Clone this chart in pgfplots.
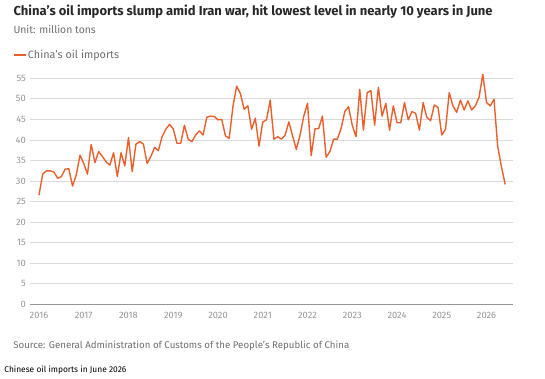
\documentclass[border=0pt]{standalone}
\usepackage{fontspec}
\setmainfont{Fira Sans}
\usepackage{pgfplots}
\pgfplotsset{compat=1.18}
\usepackage{pgfplotstable}

\definecolor{oilline}{RGB}{234,96,44}
\definecolor{gridgray}{RGB}{218,218,218}
\definecolor{zerogray}{RGB}{150,150,150}
\definecolor{ticktext}{RGB}{150,150,150}
\definecolor{titletext}{RGB}{40,40,40}
\definecolor{subtext}{RGB}{110,110,110}

% Monthly crude oil imports, million tons (month 0 = January 2016)
\pgfplotstableread{
m v
0 26.6
1 31.7
2 32.5
3 32.5
4 32.2
5 30.7
6 31.1
7 32.9
8 33.0
9 28.8
10 31.5
11 36.3
12 34.3
13 31.7
14 38.9
15 34.5
16 37.2
17 36.0
18 34.7
19 33.9
20 36.9
21 31.1
22 36.9
23 33.7
24 40.6
25 32.3
26 39.0
27 39.6
28 39.0
29 34.3
30 36.0
31 38.2
32 37.4
33 40.8
34 42.6
35 43.8
36 42.7
37 39.2
38 39.2
39 43.6
40 40.2
41 39.6
42 41.2
43 42.2
44 41.2
45 45.5
46 45.8
47 45.7
48 44.9
49 45.0
50 41.0
51 40.4
52 48.1
53 53.1
54 51.3
55 47.5
56 48.3
57 42.6
58 45.3
59 38.5
60 44.4
61 44.9
62 49.7
63 40.2
64 40.8
65 40.2
66 41.2
67 44.4
68 41.0
69 37.7
70 41.2
71 45.8
72 48.9
73 36.2
74 42.7
75 42.8
76 45.8
77 35.8
78 37.2
79 40.2
80 40.2
81 42.8
82 46.9
83 48.1
84 43.6
85 40.8
86 52.3
87 42.4
88 51.5
89 52.0
90 43.6
91 52.8
92 45.8
93 48.9
94 42.4
95 48.3
96 44.2
97 44.2
98 49.1
99 44.9
100 46.9
101 46.5
102 42.4
103 49.1
104 45.5
105 44.7
106 48.5
107 47.9
108 41.2
109 42.6
110 51.5
111 48.3
112 46.7
113 49.7
114 47.3
115 49.5
116 47.3
117 48.3
118 50.4
119 56.0
120 49.1
121 48.3
122 49.9
123 38.4
124 33.5
125 29.2
}\oildata

\begin{document}
\begin{tikzpicture}
\useasboundingbox (0,0) rectangle (545pt,-379pt);

\begin{axis}[
  at={(30pt,-304.5pt)}, anchor=south west,
  scale only axis,
  width=483pt, height=234.44pt,
  xmin=-2.41, xmax=127.1,
  ymin=0, ymax=57,
  axis line style={draw=none},
  tick style={draw=none},
  xtick={0,12,...,120},
  xticklabels={2016,2017,2018,2019,2020,2021,2022,2023,2024,2025,2026},
  ytick={0,5,...,55},
  ymajorgrids,
  grid style={gridgray, line width=0.9pt},
  extra y ticks={0},
  extra y tick labels={},
  extra y tick style={grid style={zerogray, line width=1.2pt}},
  /pgf/number format/assume math mode=true,
  ticklabel style={font=\fontsize{9.3}{11}\selectfont, text=ticktext},
  yticklabel style={anchor=east, inner sep=0pt, xshift=-4pt},
  xticklabel style={anchor=north, inner sep=0pt, yshift=-7.2pt},
  legend style={at={(-0.0346,1.0642)}, anchor=west, draw=none, fill=none,
    inner sep=0pt, outer sep=0pt,
    font=\fontsize{10.8}{12}\selectfont, text=subtext,
    nodes={inner xsep=1.6pt, inner ysep=0pt}},
  legend image code/.code={\draw[#1] (0pt,0pt) -- (11.7pt,0pt);},
]
\addplot[oilline, line width=1.4pt, line join=round] table[x=m, y=v] {\oildata};
\addlegendentry{China's oil imports}
\end{axis}

\node[anchor=base west, inner sep=0pt, text=titletext,
  font=\fontsize{13}{15}\selectfont\bfseries]
  at (13.3pt,-16pt) {China's oil imports slump amid Iran war, hit lowest level in nearly 10 years in June};
\node[anchor=base west, inner sep=0pt, text=subtext,
  font=\fontsize{10.4}{12}\selectfont]
  at (13.3pt,-33.3pt) {Unit: million tons};
\node[anchor=base west, inner sep=0pt, text=subtext,
  font=\fontsize{9.7}{11}\selectfont]
  at (13.2pt,-348pt) {Source: General Administration of Customs of the People's Republic of China};
\node[anchor=base west, inner sep=0pt, text=black,
  font=\fontsize{8.4}{10}\selectfont]
  at (4.2pt,-372pt) {Chinese oil imports in June 2026};
\end{tikzpicture}
\end{document}
